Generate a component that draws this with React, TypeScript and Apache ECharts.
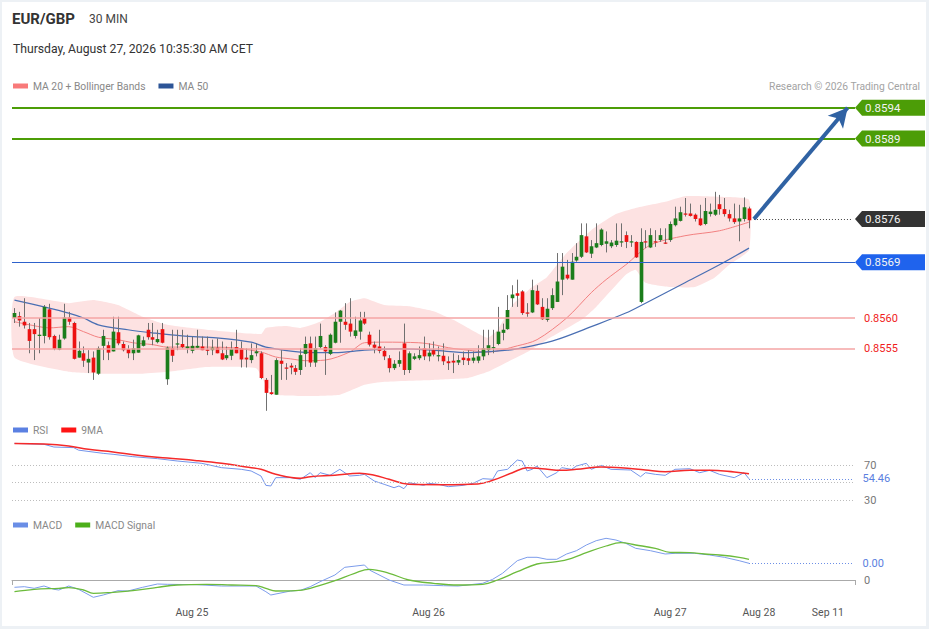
import React, { useEffect, useRef } from "react";
import * as echarts from "echarts";

// ---------- texts ----------
const SYMBOL = "EUR/GBP";
const PERIOD = "30 MIN";
const TIMESTAMP = "Thursday, August 27, 2026 10:35:30 AM CET";
const COPYRIGHT = "Research \u00A9 2026 Trading Central";

// ---------- x axis ----------
const SLOT_COUNT = 171; // 150 half-hour candles + future slots
const TICK_INDEX = [36, 84, 133, 151, 165];
const TICK_LABELS = ["Aug 25", "Aug 26", "Aug 27", "Aug 28", "Sep 11"];

// ---------- candles [open, close, low, high] ----------
const CANDLES = [
  [0.856, 0.85608, 0.85592, 0.85616],
  [0.85603, 0.85596, 0.85586, 0.8561],
  [0.85594, 0.85588, 0.85583, 0.85632],
  [0.85582, 0.85563, 0.85543, 0.85592],
  [0.85582, 0.85574, 0.85532, 0.85592],
  [0.85571, 0.85573, 0.85543, 0.856],
  [0.85571, 0.85618, 0.85559, 0.85621],
  [0.85614, 0.85569, 0.85565, 0.85623],
  [0.85571, 0.8555, 0.85548, 0.85573],
  [0.85549, 0.85565, 0.85548, 0.85573],
  [0.85567, 0.85601, 0.85565, 0.85623],
  [0.85601, 0.85594, 0.85589, 0.8561],
  [0.85592, 0.85534, 0.85533, 0.85594],
  [0.85536, 0.85547, 0.85536, 0.85562],
  [0.85543, 0.85531, 0.85521, 0.85554],
  [0.85528, 0.85534, 0.85511, 0.85548],
  [0.85536, 0.85512, 0.855, 0.85546],
  [0.8551, 0.85551, 0.85508, 0.85554],
  [0.85555, 0.85571, 0.85532, 0.85581],
  [0.85556, 0.85544, 0.85532, 0.85562],
  [0.85546, 0.85578, 0.85546, 0.85602],
  [0.85577, 0.85559, 0.85556, 0.85602],
  [0.85558, 0.85548, 0.85546, 0.85562],
  [0.8555, 0.85543, 0.85535, 0.85556],
  [0.85543, 0.85551, 0.85532, 0.85565],
  [0.85544, 0.85572, 0.85544, 0.85573],
  [0.85555, 0.85564, 0.85554, 0.8557],
  [0.85581, 0.85569, 0.85565, 0.85592],
  [0.85569, 0.85565, 0.85556, 0.85592],
  [0.85561, 0.85566, 0.85559, 0.85581],
  [0.85582, 0.8556, 0.85559, 0.85592],
  [0.85501, 0.85552, 0.85492, 0.85554],
  [0.85551, 0.85539, 0.85529, 0.85581],
  [0.85558, 0.85559, 0.85548, 0.85581],
  [0.85558, 0.85553, 0.85551, 0.85581],
  [0.85551, 0.85554, 0.85543, 0.85573],
  [0.85547, 0.85555, 0.85543, 0.8557],
  [0.85552, 0.85555, 0.85551, 0.85581],
  [0.85554, 0.85548, 0.85548, 0.8557],
  [0.85549, 0.85547, 0.8554, 0.8557],
  [0.85548, 0.85552, 0.8554, 0.85565],
  [0.85552, 0.85543, 0.85543, 0.85567],
  [0.85543, 0.85533, 0.85532, 0.85562],
  [0.85535, 0.8554, 0.85532, 0.85554],
  [0.85539, 0.8555, 0.85532, 0.85562],
  [0.85553, 0.85543, 0.85543, 0.85581],
  [0.85551, 0.85533, 0.8552, 0.85562],
  [0.85536, 0.85533, 0.8552, 0.85551],
  [0.85532, 0.8554, 0.85527, 0.85559],
  [0.85543, 0.85546, 0.85538, 0.85559],
  [0.85543, 0.85503, 0.85501, 0.85546],
  [0.855, 0.85479, 0.8545, 0.85503],
  [0.8548, 0.85477, 0.85476, 0.85508],
  [0.85476, 0.85532, 0.85476, 0.85535],
  [0.85531, 0.85526, 0.855, 0.85548],
  [0.8552, 0.85519, 0.855, 0.85527],
  [0.85523, 0.8552, 0.85509, 0.85527],
  [0.85519, 0.85513, 0.85508, 0.85524],
  [0.85516, 0.8554, 0.85508, 0.85551],
  [0.85542, 0.85558, 0.85521, 0.8557],
  [0.85559, 0.85528, 0.85521, 0.8557],
  [0.85528, 0.85551, 0.85521, 0.8557],
  [0.85553, 0.85571, 0.85551, 0.85591],
  [0.85553, 0.85546, 0.85508, 0.85556],
  [0.85542, 0.85573, 0.8554, 0.85575],
  [0.8556, 0.85594, 0.85559, 0.85609],
  [0.85594, 0.85612, 0.8556, 0.85613],
  [0.85594, 0.85589, 0.85581, 0.85624],
  [0.85591, 0.85578, 0.8557, 0.85632],
  [0.85571, 0.8558, 0.85567, 0.85602],
  [0.85578, 0.85596, 0.85565, 0.8561],
  [0.856, 0.85591, 0.85589, 0.8561],
  [0.85573, 0.85557, 0.85554, 0.85578],
  [0.85557, 0.85552, 0.85543, 0.85562],
  [0.85554, 0.85547, 0.85543, 0.85581],
  [0.85547, 0.85538, 0.85532, 0.85554],
  [0.85535, 0.85519, 0.85512, 0.8554],
  [0.85519, 0.85526, 0.85516, 0.85532],
  [0.85526, 0.85532, 0.85521, 0.85546],
  [0.85559, 0.85516, 0.85508, 0.85591],
  [0.85516, 0.85543, 0.85511, 0.85546],
  [0.85534, 0.85538, 0.85532, 0.85543],
  [0.85535, 0.8554, 0.85532, 0.85554],
  [0.85551, 0.85538, 0.85532, 0.8557],
  [0.85538, 0.85544, 0.8553, 0.85559],
  [0.85548, 0.85541, 0.85538, 0.85562],
  [0.85538, 0.8554, 0.8553, 0.85554],
  [0.85539, 0.8553, 0.85524, 0.85559],
  [0.8553, 0.85527, 0.85516, 0.85538],
  [0.85531, 0.85528, 0.85511, 0.85543],
  [0.85528, 0.85532, 0.85524, 0.8554],
  [0.85536, 0.85532, 0.85524, 0.85546],
  [0.85535, 0.85531, 0.85524, 0.85548],
  [0.85531, 0.85536, 0.85527, 0.85546],
  [0.85531, 0.85538, 0.85527, 0.85556],
  [0.85538, 0.85551, 0.85532, 0.85581],
  [0.85548, 0.85556, 0.8554, 0.85581],
  [0.85551, 0.85553, 0.85543, 0.85581],
  [0.85558, 0.85578, 0.85556, 0.85618],
  [0.85576, 0.85581, 0.85564, 0.85591],
  [0.85582, 0.85613, 0.85581, 0.85637],
  [0.85632, 0.85638, 0.85618, 0.85653],
  [0.8564, 0.85636, 0.85618, 0.85662],
  [0.85643, 0.85608, 0.85605, 0.85645],
  [0.85609, 0.85607, 0.85602, 0.85624],
  [0.85609, 0.85645, 0.85608, 0.85662],
  [0.85644, 0.85622, 0.85621, 0.85653],
  [0.85618, 0.85598, 0.85597, 0.85632],
  [0.85597, 0.85615, 0.85594, 0.85632],
  [0.85616, 0.85637, 0.85613, 0.85648],
  [0.85626, 0.85659, 0.85626, 0.85705],
  [0.85662, 0.85683, 0.85637, 0.85705],
  [0.8567, 0.85664, 0.85662, 0.85694],
  [0.85662, 0.85691, 0.85662, 0.85705],
  [0.85693, 0.85699, 0.85691, 0.85721],
  [0.85699, 0.85734, 0.85697, 0.85753],
  [0.85732, 0.85706, 0.85705, 0.85753],
  [0.85704, 0.85716, 0.85697, 0.85726],
  [0.85714, 0.85721, 0.85713, 0.85753],
  [0.85718, 0.85743, 0.85716, 0.85745],
  [0.8572, 0.85724, 0.85706, 0.8574],
  [0.85716, 0.85722, 0.85713, 0.85726],
  [0.85718, 0.85725, 0.85715, 0.85753],
  [0.85722, 0.85724, 0.85715, 0.85753],
  [0.85734, 0.85723, 0.85713, 0.8574],
  [0.85722, 0.85724, 0.85715, 0.85734],
  [0.85723, 0.85698, 0.85697, 0.85724],
  [0.85626, 0.85723, 0.85624, 0.85745],
  [0.85724, 0.85722, 0.85713, 0.85742],
  [0.85714, 0.85734, 0.85713, 0.85745],
  [0.85724, 0.85722, 0.85715, 0.85742],
  [0.85726, 0.85734, 0.85723, 0.85745],
  [0.85722, 0.85721, 0.8572, 0.85745],
  [0.85726, 0.85752, 0.85723, 0.85756],
  [0.8575, 0.85761, 0.85748, 0.8578],
  [0.85757, 0.85771, 0.85756, 0.8578],
  [0.85769, 0.85767, 0.85764, 0.85794],
  [0.85769, 0.85765, 0.85764, 0.85785],
  [0.85767, 0.8576, 0.85756, 0.85769],
  [0.85761, 0.8575, 0.85749, 0.85783],
  [0.85752, 0.85773, 0.8575, 0.85794],
  [0.85768, 0.85772, 0.85764, 0.85785],
  [0.85767, 0.85775, 0.85765, 0.85804],
  [0.85784, 0.85776, 0.85767, 0.85799],
  [0.85776, 0.85768, 0.85764, 0.85794],
  [0.85768, 0.85761, 0.85756, 0.85775],
  [0.85761, 0.85755, 0.85752, 0.85785],
  [0.85756, 0.85761, 0.85724, 0.85783],
  [0.8576, 0.85779, 0.85756, 0.85795],
  [0.85777, 0.85758, 0.85745, 0.8578],
];

// ---------- overlays [candle index, value] ----------
const MA20 = [
  [0, 0.85594], [5, 0.85586], [7, 0.85584], [11, 0.85586], [14, 0.85578], [17, 0.85569],
  [21, 0.85565], [24, 0.8556], [28, 0.85557], [31, 0.85553], [38, 0.85553], [44, 0.85552],
  [50, 0.85545], [53, 0.85537], [56, 0.85534], [59, 0.85531], [63, 0.85532], [68, 0.85545],
  [71, 0.8556], [75, 0.85561], [82, 0.8556], [85, 0.85557], [88, 0.85552], [92, 0.85548],
  [96, 0.85545], [102, 0.85555], [106, 0.85565], [112, 0.856], [117, 0.85641], [120, 0.85662],
  [124, 0.85686], [129, 0.85718], [136, 0.85733], [143, 0.85741], [149, 0.85755],
];
const MA50 = [
  [0, 0.85629], [6, 0.85618], [11, 0.85608], [14, 0.856], [17, 0.85589], [23, 0.85581],
  [28, 0.85576], [34, 0.85571], [41, 0.85568], [48, 0.85561], [51, 0.85553], [58, 0.85545],
  [65, 0.85544], [71, 0.85548], [78, 0.8555], [85, 0.85548], [92, 0.85544], [100, 0.85548],
  [105, 0.85555], [110, 0.85565], [117, 0.85586], [124, 0.85608], [128, 0.85624], [136, 0.85657],
  [143, 0.85686], [149, 0.85713],
];
const BB_UPPER = [
  [0, 0.85634], [11, 0.85624], [16, 0.85629], [21, 0.85621], [26, 0.85602], [31, 0.85589],
  [39, 0.85581], [50, 0.85574], [51, 0.85584], [55, 0.85587], [58, 0.85584], [62, 0.85594],
  [65, 0.85608], [68, 0.85626], [71, 0.85632], [75, 0.85621], [80, 0.85619], [85, 0.85611],
  [89, 0.85597], [92, 0.85584], [96, 0.85568], [98, 0.85581], [101, 0.85621], [105, 0.8565],
  [108, 0.85666], [112, 0.85705], [117, 0.85742], [122, 0.85768], [126, 0.85778], [132, 0.85788],
  [136, 0.85797], [143, 0.85796], [149, 0.85791],
];
const BB_LOWER = [
  [0, 0.85536], [11, 0.85513], [17, 0.8551], [26, 0.8551], [31, 0.85513], [39, 0.85521],
  [49, 0.85519], [51, 0.85492], [53, 0.85476], [60, 0.85474], [66, 0.85476], [71, 0.85492],
  [75, 0.85497], [85, 0.855], [92, 0.85503], [96, 0.85513], [100, 0.85529], [104, 0.85545],
  [108, 0.85565], [115, 0.85597], [118, 0.85618], [124, 0.8567], [126, 0.85678], [128, 0.85657],
  [133, 0.8565], [138, 0.8565], [142, 0.85665], [145, 0.85686], [149, 0.8571],
];

// ---------- RSI ----------
const RSI = [
  [0, 95.3], [6, 94.2], [8, 91.1], [12, 90.4], [13, 87.5], [18, 83.8], [20, 82.7], [24, 80.0],
  [29, 77.7], [33, 75.0], [38, 72.3], [42, 67.3], [46, 65.4], [48, 63.5], [50, 57.7], [51, 46.9],
  [52, 46.2], [53, 55.8], [56, 55.8], [58, 53.9], [60, 61.5], [61, 55.8], [62, 61.5], [64, 58.5],
  [66, 65.4], [68, 57.7], [70, 58.5], [71, 59.6], [73, 51.9], [75, 48.1], [77, 44.2], [78, 46.2],
  [79, 43.1], [80, 50.0], [83, 46.9], [84, 49.2], [86, 48.1], [88, 45.4], [91, 46.9], [93, 49.2],
  [95, 54.6], [97, 53.9], [98, 63.5], [100, 65.4], [102, 76.1], [103, 75.0], [104, 63.5], [105, 65.4],
  [106, 69.2], [108, 55.8], [110, 61.5], [111, 67.3], [113, 65.4], [114, 69.2], [116, 72.3], [117, 65.4],
  [119, 70.0], [121, 65.4], [125, 64.6], [127, 56.9], [128, 61.5], [130, 59.6], [132, 58.5], [134, 65.4],
  [137, 66.1], [139, 61.5], [141, 64.2], [143, 59.6], [146, 55.8], [148, 61.5], [149, 54.46],
];
const RSI_MA = [
  [0, 95.3], [6, 94.6], [11, 92.3], [15, 88.4], [20, 85.4], [25, 81.5], [31, 78.4], [37, 75.4],
  [42, 72.3], [47, 68.1], [50, 65.4], [53, 59.6], [58, 55.0], [60, 56.9], [65, 58.5], [70, 60.8],
  [73, 58.5], [76, 53.9], [80, 48.1], [87, 47.7], [94, 48.5], [97, 52.7], [101, 61.5], [104, 67.3],
  [107, 66.1], [111, 64.2], [114, 65.4], [119, 68.1], [123, 67.3], [128, 64.6], [132, 62.7], [137, 64.2],
  [141, 64.2], [146, 62.3], [149, 60.4],
];
const RSI_LEVELS = [70, 50, 30];
const RSI_LABELLED = [70, 30];
const RSI_LAST = 54.46;

// ---------- MACD ----------
const MACD = [
  [0, -0.000073], [2, -0.000067], [4, -0.000083], [6, -0.00006], [8, -0.000093], [9, -0.0001],
  [11, -0.00006], [13, -0.000093], [16, -0.000173], [18, -0.00015], [21, -0.000107], [23, -0.00011],
  [26, -0.000073], [29, -0.00004], [31, -0.000043], [37, -0.000047], [42, -0.00006], [49, -0.00006],
  [51, -0.000117], [52, -0.00015], [56, -0.00011], [58, -0.000103], [60, -0.000067], [62, -0.000017],
  [65, 0.00005], [67, 0.000127], [71, 0.00015], [72, 0.0001], [76, 0], [79, -0.00005], [83, -0.00005],
  [87, -0.000057], [90, -0.00006], [95, -0.000033], [97, 0.000007], [99, 0.000067], [102, 0.000193],
  [104, 0.000227], [106, 0.000227], [108, 0.000207], [110, 0.000207], [112, 0.00026], [114, 0.000293],
  [116, 0.00035], [118, 0.000393], [120, 0.000417], [122, 0.0004], [124, 0.000367], [126, 0.000317],
  [129, 0.000293], [132, 0.00026], [134, 0.000267], [138, 0.000267], [141, 0.00025], [144, 0.000227],
  [147, 0.000193], [149, 0.000167],
];
const MACD_SIGNAL = [
  [0, -0.000117], [4, -0.000093], [9, -0.000083], [11, -0.000077], [14, -0.0001], [16, -0.000133],
  [20, -0.000123], [24, -0.000107], [29, -0.000073], [33, -0.00005], [39, -0.000043], [44, -0.00005],
  [49, -0.000057], [51, -0.000083], [53, -0.00011], [57, -0.000107], [60, -0.000083], [65, -0.000007],
  [69, 0.000067], [72, 0.000107], [76, 0.000067], [80, 0], [85, -0.000033], [90, -0.00005],
  [95, -0.000043], [98, 0], [102, 0.000083], [106, 0.00016], [110, 0.000183], [113, 0.000217],
  [116, 0.000273], [120, 0.00034], [123, 0.000373], [126, 0.00035], [130, 0.000317], [133, 0.000277],
  [137, 0.000273], [140, 0.00026], [143, 0.00025], [147, 0.000227], [149, 0.000207],
];
const MACD_LAST = 0.000167;
const MACD_ZERO = 0;

// ---------- price levels ----------
const RESISTANCES = [0.8594, 0.8589];
const LAST_PRICE = 0.8576;
const PIVOT = 0.8569;
const SUPPORTS = [0.856, 0.8555];
const TARGET = 0.8594;

// ---------- styles ----------
const FONT = "Roboto";
const UP = "#1b7d1b";
const DOWN = "#ec1111";
const WICK = "#707070";
const BAND = "#fde2e2";
const GREEN = "#4c9d07";
const BLUE_TAG = "#1f63ed";
const BLUE_LINE = "#2e62cc";
const DARK = "#333333";
const RED_LINE = "#f5a4a4";
const RED_TEXT = "#f01c1c";
const ARROW = "#3062a3";
const GRID_LEFT = 12;
const GRID_RIGHT = 74;
const LAST_INDEX = CANDLES.length - 1;
const END_INDEX = SLOT_COUNT - 1;

function buildOption(): any {
  const cats = Array.from({ length: SLOT_COUNT }, (_, i) => String(i));
  const gridBase = { left: GRID_LEFT, right: GRID_RIGHT, containLabel: false };
  const xAxis = [0, 1, 2].map((g) => ({
    type: "category",
    gridIndex: g,
    data: cats,
    boundaryGap: true,
    axisLine: { show: g === 2, lineStyle: { color: "#aaaaaa", width: 1 } },
    axisTick: {
      show: g === 2,
      interval: (i: number) => i === 0,
      length: 5,
      lineStyle: { color: "#aaaaaa" },
    },
    axisLabel: {
      show: g === 2,
      interval: (i: number) => TICK_INDEX.indexOf(i) >= 0,
      formatter: (_v: string, i: number) => {
        const k = TICK_INDEX.indexOf(i);
        return k >= 0 ? TICK_LABELS[k] : "";
      },
      color: "#555555",
      fontSize: 10.5,
      fontFamily: FONT,
      margin: 7,
    },
    splitLine: { show: false },
  }));
  const hiddenY = (g: number, min: number, max: number) => ({
    type: "value",
    gridIndex: g,
    min,
    max,
    show: false,
    splitLine: { show: false },
  });

  const levelLine = (v: number, color: string, width: number, withLabel: boolean) => ({
    yAxis: v,
    lineStyle: { color, width, type: "solid" },
    label: withLabel
      ? {
          show: true,
          position: "end",
          distance: 9,
          formatter: () => v.toFixed(4),
          color: RED_TEXT,
          fontSize: 11,
          fontFamily: FONT,
        }
      : { show: false },
  });

  const dotted = { type: [1, 2], width: 1 };
  const markBase = {
    silent: true,
    symbol: "none",
    animation: false,
    precision: 8,
    label: { show: false },
    emphasis: { disabled: true },
  };

  return {
    animation: false,
    backgroundColor: "#edf1f5",
    textStyle: { fontFamily: FONT },
    grid: [
      { ...gridBase, top: 95.3, height: 321.7 },
      { ...gridBase, top: 439.3, height: 86.75 },
      { ...gridBase, top: 530, height: 70 },
    ],
    xAxis,
    yAxis: [hiddenY(0, 0.8544, 0.8596), hiddenY(1, 0, 100), hiddenY(2, -0.0002, 0.0005)],
    legend: [
      ["MA 20 + Bollinger Bands", "MA 50"],
      ["RSI", "9MA"],
      ["MACD", "MACD Signal"],
    ].map((names, k) => ({
      data: names,
      left: 13,
      top: [81, 425, 520][k],
      icon: "rect",
      itemWidth: 15,
      itemHeight: 5,
      itemGap: 13,
      padding: 0,
      selectedMode: false,
      textStyle: { color: "#888888", fontSize: 10.3, fontFamily: FONT },
    })),
    series: [
      {
        type: "custom",
        name: "bands",
        xAxisIndex: 0,
        yAxisIndex: 0,
        z: 1,
        silent: true,
        data: [[BB_UPPER[0][0], BB_UPPER[0][1]]],
        encode: { x: 0, y: 1 },
        renderItem: (_p: any, api: any) => {
          const pts = [
            ...BB_UPPER.map(([i, v]) => api.coord([i, v])),
            ...BB_LOWER.slice()
              .reverse()
              .map(([i, v]) => api.coord([i, v])),
          ];
          return { type: "polygon", shape: { points: pts, smooth: 0.15 }, style: { fill: BAND } };
        },
      },
      {
        type: "line",
        name: "MA 20 + Bollinger Bands",
        xAxisIndex: 0,
        yAxisIndex: 0,
        z: 2,
        data: MA20,
        smooth: 0.3,
        showSymbol: false,
        symbol: "none",
        itemStyle: { color: "#f87a7a" },
        lineStyle: { color: "#f28080", width: 1 },
        silent: true,
        markLine: {
          ...markBase,
          data: [
            levelLine(RESISTANCES[0], GREEN, 2, false),
            levelLine(RESISTANCES[1], GREEN, 2, false),
            levelLine(PIVOT, BLUE_LINE, 1.2, false),
            levelLine(SUPPORTS[0], RED_LINE, 1.5, true),
            levelLine(SUPPORTS[1], RED_LINE, 1.5, true),
            [
              { coord: [LAST_INDEX + 1, LAST_PRICE], lineStyle: { color: "#444", ...dotted }, label: { show: false } },
              { coord: [END_INDEX, LAST_PRICE], lineStyle: { color: "#444", ...dotted }, label: { show: false } },
            ],
            [
              { coord: [LAST_INDEX + 1, LAST_PRICE], symbol: "none", lineStyle: { color: ARROW, width: 4, type: "solid" }, label: { show: false } },
              { coord: [END_INDEX - 1, TARGET], symbol: "arrow", symbolSize: [15, 19], lineStyle: { color: ARROW, width: 4, type: "solid" }, label: { show: false } },
            ],
          ],
        },
      },
      {
        type: "line",
        name: "MA 50",
        xAxisIndex: 0,
        yAxisIndex: 0,
        z: 2,
        data: MA50,
        smooth: 0.3,
        showSymbol: false,
        symbol: "none",
        itemStyle: { color: "#2d5597" },
        lineStyle: { color: "#4a6fb3", width: 1.2 },
        silent: true,
      },
      {
        type: "custom",
        name: "EUR/GBP",
        xAxisIndex: 0,
        yAxisIndex: 0,
        z: 3,
        silent: true,
        data: CANDLES.map((c, i) => [i, c[0], c[1], c[2], c[3]]),
        encode: { x: 0, y: [1, 2, 3, 4] },
        renderItem: (_p: any, api: any) => {
          const i = api.value(0);
          const o = api.value(1);
          const c = api.value(2);
          const l = api.value(3);
          const h = api.value(4);
          const pO = api.coord([i, o]);
          const pC = api.coord([i, c]);
          const pL = api.coord([i, l]);
          const pH = api.coord([i, h]);
          const w = api.size([1, 0])[0] * 0.74;
          const xc = Math.round(pO[0]) + 0.5;
          const top = Math.min(pO[1], pC[1]);
          const hgt = Math.max(Math.abs(pO[1] - pC[1]), 1.2);
          return {
            type: "group",
            children: [
              { type: "line", shape: { x1: xc, y1: pH[1], x2: xc, y2: pL[1] }, style: { stroke: WICK, lineWidth: 1 } },
              { type: "rect", shape: { x: xc - w / 2, y: top, width: w, height: hgt }, style: { fill: c >= o ? UP : DOWN } },
            ],
          };
        },
      },
      {
        type: "line",
        name: "RSI",
        xAxisIndex: 1,
        yAxisIndex: 1,
        z: 2,
        data: RSI,
        showSymbol: false,
        symbol: "none",
        itemStyle: { color: "#5b80e2" },
        lineStyle: { color: "#7394ea", width: 1 },
        silent: true,
        markLine: {
          ...markBase,
          data: [
            ...RSI_LEVELS.map((v) => ({
              yAxis: v,
              lineStyle: { color: "#bdbdbd", ...dotted },
              label:
                RSI_LABELLED.indexOf(v) >= 0
                  ? { show: true, position: "end", distance: 9, formatter: () => String(v), color: "#777777", fontSize: 11, fontFamily: FONT }
                  : { show: false },
            })),
            [
              { coord: [LAST_INDEX, RSI_LAST], lineStyle: { color: "#6d8fe6", ...dotted } },
              {
                coord: [END_INDEX, RSI_LAST],
                lineStyle: { color: "#6d8fe6", ...dotted },
                label: { show: true, position: "end", distance: 10, formatter: () => RSI_LAST.toFixed(2), color: "#5b7fe0", fontSize: 11, fontFamily: FONT },
              },
            ],
          ],
        },
      },
      {
        type: "line",
        name: "9MA",
        xAxisIndex: 1,
        yAxisIndex: 1,
        z: 3,
        data: RSI_MA,
        smooth: 0.4,
        showSymbol: false,
        symbol: "none",
        itemStyle: { color: "#ff1414" },
        lineStyle: { color: "#f52a2a", width: 1.5 },
        silent: true,
      },
      {
        type: "line",
        name: "MACD",
        xAxisIndex: 2,
        yAxisIndex: 2,
        z: 2,
        data: MACD,
        showSymbol: false,
        symbol: "none",
        itemStyle: { color: "#6a8ee6" },
        lineStyle: { color: "#7c9ceb", width: 1 },
        silent: true,
        markLine: {
          ...markBase,
          data: [
            {
              yAxis: MACD_ZERO,
              lineStyle: { color: "rgba(0,0,0,0)", width: 0 },
              label: { show: true, position: "end", distance: 9, formatter: () => String(MACD_ZERO), color: "#777777", fontSize: 11, fontFamily: FONT },
            },
            [
              { coord: [LAST_INDEX, MACD_LAST], lineStyle: { color: "#6d8fe6", ...dotted } },
              {
                coord: [END_INDEX, MACD_LAST],
                lineStyle: { color: "#6d8fe6", ...dotted },
                label: { show: true, position: "end", distance: 10, formatter: () => MACD_LAST.toFixed(2), color: "#5b7fe0", fontSize: 11, fontFamily: FONT },
              },
            ],
          ],
        },
      },
      {
        type: "line",
        name: "MACD Signal",
        xAxisIndex: 2,
        yAxisIndex: 2,
        z: 3,
        data: MACD_SIGNAL,
        smooth: 0.4,
        showSymbol: false,
        symbol: "none",
        itemStyle: { color: "#4caf1a" },
        lineStyle: { color: "#6cbb3c", width: 1.3 },
        silent: true,
      },
    ],
  };
}

export default function App() {
  const ref = useRef<HTMLDivElement>(null);
  useEffect(() => {
    if (!ref.current) return;
    const chart = echarts.init(ref.current, null, { renderer: "svg" });
    chart.setOption(buildOption());

    const right = 929 - GRID_RIGHT;
    const tags = [
      { value: RESISTANCES[0], fill: GREEN },
      { value: RESISTANCES[1], fill: GREEN },
      { value: LAST_PRICE, fill: DARK },
      { value: PIVOT, fill: BLUE_TAG },
    ];
    const tagElements: any[] = [];
    tags.forEach((t) => {
      const y = chart.convertToPixel({ yAxisIndex: 0 }, t.value) as unknown as number;
      tagElements.push({
        type: "polygon",
        z: 50,
        silent: true,
        shape: {
          points: [
            [right, y],
            [right + 7, y - 8],
            [925, y - 8],
            [925, y + 8],
            [right + 7, y + 8],
          ],
        },
        style: { fill: t.fill },
      });
      tagElements.push({
        type: "text",
        z: 51,
        silent: true,
        x: right + 10,
        y,
        style: { text: t.value.toFixed(4), font: `11.5px ${FONT}`, fill: "#f3f3f3", verticalAlign: "middle" },
      });
    });

    chart.setOption({
      graphic: {
        elements: [
          { type: "rect", z: -100, silent: true, shape: { x: 2, y: 2, width: 924, height: 624 }, style: { fill: "#ffffff" } },
          { type: "text", silent: true, x: 12, y: 19, style: { text: SYMBOL, font: `bold 15px ${FONT}`, fill: "#333333", verticalAlign: "middle" } },
          { type: "text", silent: true, x: 89, y: 19, style: { text: PERIOD, font: `12px ${FONT}`, fill: "#444444", verticalAlign: "middle" } },
          { type: "text", silent: true, x: 13, y: 49, style: { text: TIMESTAMP, font: `12.2px ${FONT}`, fill: "#333333", verticalAlign: "middle" } },
          { type: "text", silent: true, x: 920, y: 86, style: { text: COPYRIGHT, font: `10.3px ${FONT}`, fill: "#a3a3a3", align: "right", verticalAlign: "middle" } },
          ...tagElements,
        ],
      },
    });
    return () => chart.dispose();
  }, []);
  return <div ref={ref} style={{ position: "absolute", left: 0, top: 0, width: 929, height: 629 }} />;
}
